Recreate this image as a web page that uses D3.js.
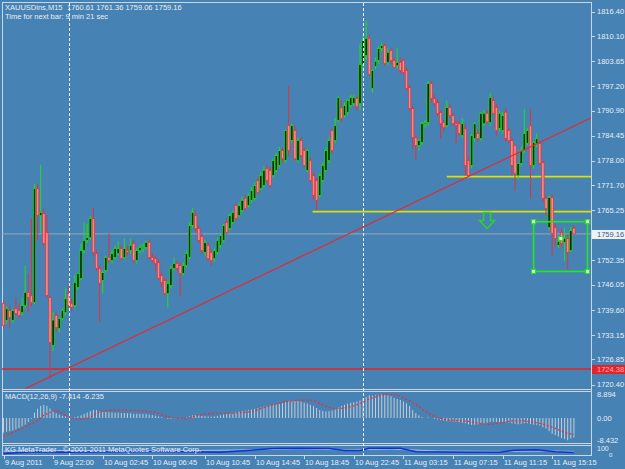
<!DOCTYPE html>
<html>
<head>
<meta charset="utf-8">
<script src="https://cdn.jsdelivr.net/npm/d3@7"></script>
<style>
  html, body { margin: 0; padding: 0; background: #4682b4; }
  svg { display: block; font-family: "Liberation Sans", Arial, sans-serif; }
</style>
</head>
<body>
<svg id="chart" width="625" height="469"></svg>
<script>
// XAUUSDins M15 - open, high, low, close per bar
const candles = [
  [1741.2,1742.0,1734.8,1735.6],[1736.9,1740.5,1736.0,1739.9],[1739.4,1740.7,1735.0,1737.6],[1736.9,1739.9,1736.3,1739.4],
  [1739.9,1742.8,1738.2,1738.7],[1739.4,1741.0,1737.4,1738.2],[1738.9,1742.8,1738.2,1740.7],[1740.7,1751.0,1740.0,1744.1],
  [1744.1,1748.9,1738.9,1742.8],[1743.3,1763.1,1740.5,1741.5],[1741.5,1772.1,1741.0,1770.8],[1770.8,1772.1,1757.5,1763.9],
  [1763.9,1777.0,1759.5,1764.7],[1764.4,1765.7,1756.2,1756.7],[1759.5,1763.9,1742.8,1743.3],[1742.8,1743.3,1721.9,1731.2],
  [1730.5,1739.0,1729.0,1737.0],[1738.2,1739.0,1734.0,1735.1],[1734.8,1737.6,1733.8,1737.4],[1737.4,1740.0,1736.9,1739.4],
  [1738.9,1745.1,1738.2,1742.5],[1743.8,1745.9,1740.2,1740.7],[1741.2,1742.5,1739.4,1740.2],[1740.7,1748.5,1740.0,1746.6],
  [1745.4,1749.2,1744.8,1749.0],[1747.7,1756.7,1747.2,1754.9],[1754.9,1762.1,1754.1,1757.5],[1757.5,1761.8,1756.9,1758.2],
  [1758.2,1763.9,1757.7,1763.1],[1763.1,1765.9,1753.6,1754.4],[1754.1,1755.1,1749.7,1750.3],[1750.3,1751.0,1736.4,1746.4],
  [1747.2,1749.7,1743.8,1749.2],[1749.7,1753.6,1749.2,1753.1],[1753.1,1759.3,1751.8,1752.3],[1752.3,1754.9,1751.5,1754.1],
  [1753.1,1756.2,1752.6,1755.4],[1754.1,1757.2,1753.6,1755.4],[1755.4,1756.4,1752.3,1752.8],[1753.1,1758.0,1752.6,1755.4],
  [1754.9,1756.2,1753.6,1754.4],[1754.9,1758.0,1754.1,1756.2],[1756.7,1757.5,1751.8,1752.3],[1752.3,1755.6,1751.5,1754.9],
  [1754.9,1756.4,1754.1,1755.7],[1755.4,1756.7,1754.4,1755.7],[1755.7,1757.5,1755.1,1757.0],[1757.0,1757.7,1752.6,1753.1],
  [1753.1,1754.1,1751.8,1752.3],[1752.8,1753.6,1749.7,1751.5],[1751.8,1752.6,1747.2,1747.7],[1748.5,1749.2,1745.4,1746.6],
  [1747.2,1747.7,1743.3,1743.8],[1743.8,1747.0,1740.2,1746.4],[1745.9,1750.8,1745.1,1750.3],[1750.3,1753.1,1749.7,1751.5],
  [1751.5,1752.3,1749.7,1750.3],[1751.0,1751.8,1743.3,1749.0],[1749.0,1751.8,1748.5,1751.0],[1751.0,1754.9,1750.5,1754.1],
  [1753.1,1762.1,1752.6,1761.3],[1761.3,1765.9,1760.8,1764.7],[1763.9,1765.2,1759.8,1760.5],[1760.5,1761.3,1756.9,1757.5],
  [1758.5,1759.3,1754.1,1754.9],[1754.4,1757.7,1753.6,1756.9],[1756.2,1757.0,1752.3,1752.8],[1754.4,1755.1,1751.0,1752.3],
  [1752.8,1755.4,1752.0,1754.9],[1754.4,1758.0,1753.8,1757.5],[1756.2,1759.0,1755.6,1758.7],[1757.5,1761.8,1757.0,1761.3],
  [1762.1,1763.1,1759.0,1759.5],[1760.5,1764.4,1760.0,1763.9],[1762.1,1765.2,1761.6,1764.7],[1766.5,1767.0,1762.6,1763.1],
  [1763.9,1767.2,1763.4,1766.5],[1765.2,1768.8,1764.7,1767.8],[1768.3,1769.1,1765.2,1765.7],[1766.5,1769.6,1765.9,1769.0],
  [1767.8,1771.1,1767.2,1770.3],[1768.3,1772.4,1767.8,1771.6],[1772.9,1773.6,1769.6,1769.8],[1770.8,1775.0,1770.3,1774.2],
  [1771.6,1776.5,1771.1,1775.5],[1776.0,1777.0,1772.4,1772.9],[1775.5,1776.5,1771.1,1771.6],[1774.2,1778.5,1773.6,1778.0],
  [1775.5,1780.0,1775.0,1779.3],[1776.8,1781.6,1776.3,1780.6],[1780.6,1781.4,1777.5,1778.5],[1778.0,1786.0,1777.5,1785.8],
  [1787.0,1797.3,1779.0,1780.6],[1783.2,1787.5,1782.5,1787.0],[1785.8,1787.0,1778.0,1778.5],[1778.0,1784.0,1777.5,1783.2],
  [1783.2,1784.0,1778.8,1779.3],[1780.6,1781.4,1776.3,1776.8],[1775.5,1781.1,1775.0,1780.6],[1778.0,1778.8,1772.4,1772.9],
  [1774.2,1775.0,1768.0,1769.0],[1772.9,1773.6,1765.2,1767.8],[1769.0,1774.7,1768.5,1774.2],[1772.9,1777.5,1772.4,1776.8],
  [1775.5,1781.4,1775.0,1780.6],[1778.0,1784.0,1777.5,1783.2],[1785.8,1786.5,1780.0,1780.6],[1783.2,1789.0,1782.5,1787.0],
  [1788.3,1794.5,1787.8,1794.2],[1791.7,1793.5,1788.0,1788.8],[1789.6,1793.0,1789.0,1792.2],[1790.4,1794.0,1789.8,1793.5],
  [1792.2,1795.0,1791.7,1794.2],[1792.7,1795.0,1792.2,1794.2],[1794.0,1794.7,1791.0,1791.9],[1792.7,1808.0,1791.0,1802.8],
  [1802.8,1810.2,1801.5,1808.9],[1805.1,1814.1,1804.0,1809.5],[1809.4,1810.5,1799.9,1800.2],[1796.6,1801.5,1795.5,1801.2],
  [1802.3,1804.5,1801.5,1803.6],[1803.8,1807.5,1803.0,1806.9],[1806.9,1808.4,1806.0,1807.6],[1807.6,1808.2,1802.5,1803.0],
  [1803.3,1807.0,1802.5,1805.9],[1806.4,1807.0,1803.0,1803.8],[1803.8,1804.5,1801.8,1802.0],[1802.5,1807.1,1801.8,1803.3],
  [1803.3,1804.5,1800.5,1801.2],[1803.8,1804.3,1800.2,1800.7],[1801.2,1802.0,1796.0,1796.6],[1796.8,1797.5,1791.0,1791.4],
  [1791.4,1792.0,1781.1,1783.9],[1783.9,1784.5,1778.0,1781.9],[1781.9,1783.5,1780.5,1783.2],[1782.7,1788.0,1782.0,1787.5],
  [1787.5,1788.5,1786.5,1787.8],[1787.8,1798.5,1787.0,1797.9],[1797.9,1798.5,1793.0,1794.0],[1794.0,1795.0,1792.0,1792.7],
  [1793.0,1794.0,1789.5,1790.2],[1790.4,1791.0,1783.6,1787.5],[1787.8,1788.5,1785.5,1786.5],[1787.0,1793.5,1786.5,1791.7],
  [1791.7,1792.5,1789.0,1789.6],[1789.6,1790.2,1787.0,1787.5],[1787.5,1788.3,1782.4,1787.0],[1787.5,1788.3,1784.5,1785.0],
  [1784.5,1789.0,1783.8,1787.5],[1786.2,1787.5,1774.2,1776.8],[1778.0,1779.0,1774.0,1774.2],[1776.8,1785.0,1776.0,1784.5],
  [1783.7,1788.0,1783.0,1787.5],[1785.0,1786.0,1783.0,1783.7],[1783.7,1790.5,1783.0,1790.2],[1787.5,1791.0,1787.0,1790.2],
  [1790.2,1791.0,1787.5,1788.0],[1787.8,1795.5,1787.0,1794.3],[1793.5,1794.5,1790.0,1790.2],[1791.7,1792.5,1784.5,1785.8],
  [1786.3,1791.0,1785.5,1790.2],[1785.8,1790.5,1785.0,1789.6],[1790.5,1791.5,1783.0,1783.7],[1785.8,1786.5,1782.5,1783.2],
  [1783.2,1784.0,1774.2,1776.8],[1781.9,1782.0,1770.3,1774.7],[1774.2,1776.5,1773.0,1777.3],[1777.3,1781.5,1776.5,1780.6],
  [1780.6,1791.4,1780.0,1785.0],[1782.5,1786.5,1782.0,1785.8],[1787.0,1791.4,1768.3,1776.8],[1776.8,1783.0,1776.0,1782.7],
  [1782.4,1785.0,1781.5,1783.7],[1782.4,1783.0,1777.0,1777.3],[1777.5,1778.0,1767.5,1768.3],[1768.3,1769.0,1764.0,1765.7],
  [1760.8,1769.0,1760.0,1768.5],[1768.5,1769.3,1753.6,1759.3],[1760.8,1761.8,1756.0,1758.0],[1756.2,1758.5,1755.5,1757.2],
  [1759.5,1760.5,1755.5,1756.7],[1757.0,1760.8,1752.0,1758.0],[1758.0,1759.0,1750.0,1754.4],[1754.9,1761.0,1754.4,1760.0],
  [1760.61,1761.36,1759.06,1759.16]
];

// MACD(12,26,9) main (histogram) and signal, one value per bar
const macdMain = [
  -5.5,-5.2,-5.0,-4.7,-4.3,-3.8,-3.2,-2.5,-1.5,
  -0.3,2.0,3.5,4.6,5.0,4.6,
  3.6,2.6,1.8,1.2,0.8,0.6,
  0.4,0.2,0.3,0.6,1.0,
  1.6,2.1,2.6,3.1,3.0,2.6,
  2.4,2.3,2.2,2.1,2.0,2.0,1.9,1.9,1.8,
  1.8,1.6,1.6,1.5,1.5,1.5,1.3,1.1,0.9,0.6,
  0.3,0.0,-0.3,-0.3,-0.2,-0.1,-0.2,0.0,0.2,0.6,
  1.0,1.1,1.0,0.8,0.7,0.6,0.5,0.6,0.8,1.0,
  1.3,1.5,1.8,2.0,2.2,2.4,2.6,2.8,3.0,3.2,
  3.5,3.7,4.0,4.3,4.5,4.7,5.0,5.3,5.5,5.7,
  6.0,6.5,6.6,6.5,6.4,6.2,5.8,5.5,5.0,
  4.5,3.8,3.0,2.7,2.5,2.6,2.8,3.2,4.0,
  4.6,5.0,5.4,5.8,6.0,6.2,6.6,
  7.4,8.0,8.6,8.5,8.6,8.8,8.894,8.7,8.5,8.2,
  7.6,7.2,6.8,6.2,5.5,4.5,3.0,1.8,
  1.0,0.4,0.0,0.2,0.0,-0.3,-0.5,
  -0.8,-1.0,-1.2,-1.2,-1.4,-1.5,-1.6,-1.8,-2.0,-2.4,
  -2.6,-2.5,-2.4,-2.2,-2.0,-1.8,-1.5,-1.4,
  -1.5,-1.6,-1.5,-1.6,-1.8,-2.0,-2.2,
  -2.4,-2.2,-2.0,-2.0,-2.3,-2.5,-2.6,-2.8,-3.5,
  -4.0,-5.0,-6.0,-6.5,-7.0,-7.6,-8.0,-8.432,-7.8,-7.414
];
const macdSignal = [
  -7.0,-6.5,-6.0,-5.5,-5.0,-4.5,-4.0,-3.3,-2.6,-2.1,
  -1.6,-0.8,0.2,1.0,1.6,2.1,2.5,2.7,2.5,1.9,
  1.0,0.4,0.0,-0.3,-0.4,-0.4,-0.3,-0.1,0.4,1.0,
  1.8,2.3,2.6,2.8,2.9,3.0,3.0,3.0,3.0,3.0,
  3.0,2.9,2.9,2.8,2.7,2.6,2.5,2.4,2.3,2.0,
  1.7,1.2,0.8,0.5,0.3,0.1,0.0,-0.1,-0.1,-0.1,
  0.1,0.4,0.8,1.1,1.3,1.5,1.6,1.7,1.8,1.8,
  1.8,1.8,1.8,1.8,1.8,1.9,2.0,2.1,2.2,2.3,
  2.5,2.8,3.1,3.5,3.9,4.3,4.6,5.0,5.3,5.6,
  5.9,6.1,6.3,6.5,6.6,6.8,6.8,6.8,6.8,6.8,
  6.7,6.1,5.4,4.9,4.4,4.0,3.7,3.7,3.7,3.7,
  3.8,4.0,4.3,4.6,5.0,5.5,6.0,6.6,7.2,7.6,
  8.0,8.4,8.7,8.9,9.0,9.0,8.9,8.6,8.2,7.6,
  7.0,6.5,5.8,5.0,4.2,3.4,2.6,1.9,1.1,0.6,
  0.1,-0.2,-0.5,-0.7,-0.8,-0.9,-1.0,-1.0,-1.1,-1.2,
  -1.3,-1.5,-1.7,-1.9,-2.1,-2.3,-2.4,-2.4,-2.3,-2.1,
  -1.9,-1.7,-1.5,-1.3,-1.1,-1.1,-1.1,-1.1,-1.1,-1.3,
  -1.5,-1.6,-1.8,-2.0,-2.3,-2.6,-3.0,-3.5,-3.9,-4.4,
  -4.9,-5.3,-5.8,-6.0,-6.235
];

// lower indicator window (0..100): [bar, value]
const subBlue = [[0,20],[10,40],[20,35],[35,40],[50,45],[60,40],[70,35],[80,60],[87,80],[95,85],[105,80],[110,55],
  [115,55],[118,85],[128,85],[133,40],[150,35],[160,35],[165,60],[172,65],[178,40],[184,30]];
const subLight = [[0,50],[20,55],[40,50],[60,55],[80,65],[95,75],[110,65],[125,75],[140,50],[160,45],[175,50],[184,45]];

// axis labels
const priceTicks = [1816.40,1810.10,1803.65,1797.20,1790.90,1784.45,1778.00,1771.70,1765.25,1752.35,1746.05,1739.60,1733.15,1726.85,1720.40];
const macdTicks = [8.894, 0, -8.432];
const timeTickBars = [0,16,32,48,65,81,97,113,129,145,161,177];
const timeLabels = ['9 Aug 2011','9 Aug 22:00','10 Aug 02:45','10 Aug 06:45','10 Aug 10:45','10 Aug 14:45',
  '10 Aug 18:45','10 Aug 22:45','11 Aug 03:15','11 Aug 07:15','11 Aug 11:15','11 Aug 15:15'];
const daySeparators = [21, 116];

// chart objects
const bidPrice = 1759.16;
const supportPrice = 1724.38;
const trendLine = [[7.1, 1719.36], [189.7, 1789.1]];
const levelLines = [{ from: 143, price: 1773.9 }, { from: 99.7, price: 1764.9 }];
const arrowPoint = { bar: 156, price: 1764.66 };
const box = { bar1: 171, bar2: 188.4, price1: 1762.3, price2: 1749.5 };
const handlePoint = { bar: 179.8, price: 1758.0 };

(function() {
    'use strict';

    const svg = d3.select('#chart');
    const frame = '#c9d6e3';
    const fg = '#e8eef5';
    const L = 2, R = 591;
    const snap = v => Math.round(v) + 0.5;

    const x = d3.scaleLinear().domain([0, candles.length - 1]).range([3.5, 3.5 + (candles.length - 1) * 3.1]);
    const y = d3.scaleLinear().domain([1720.40, 1816.40]).range([384.5, 11.5]);
    const ym = d3.scaleLinear().domain([-8.432, 8.894]).range([440.3, 394.5]);
    const ys = d3.scaleLinear().domain([0, 100]).range([455, 447]);

    svg.append('rect').attr('width', 625).attr('height', 469).attr('fill', '#4682b4');

    const defs = svg.append('defs');
    const clip = (id, y0, y1) => defs.append('clipPath').attr('id', id)
        .append('rect').attr('x', L).attr('y', y0).attr('width', R - L).attr('height', y1 - y0);
    clip('clipMain', 2, 389);
    clip('clipMacd', 391.5, 443.5);
    clip('clipSub', 445.5, 455.5);

    // window frames
    const frames = svg.append('g').attr('stroke', frame).attr('stroke-width', 1);
    [2.5, 389.5, 391.5, 443.5, 445.5, 455.5].forEach(v => {
        frames.append('line').attr('x1', L).attr('x2', R).attr('y1', v).attr('y2', v);
    });
    frames.append('line').attr('x1', L + 0.5).attr('x2', L + 0.5).attr('y1', 2).attr('y2', 456);
    frames.append('line').attr('x1', R + 0.5).attr('x2', R + 0.5).attr('y1', 2).attr('y2', 456);

    // main window
    const main = svg.append('g').attr('clip-path', 'url(#clipMain)');

    const hline = (x1, p, color, w) => main.append('line')
        .attr('x1', x1).attr('x2', R)
        .attr('y1', y(p)).attr('y2', y(p))
        .attr('stroke', color).attr('stroke-width', w);

    hline(L, bidPrice, '#9ba7b4', 1);
    hline(L, supportPrice, '#e82020', 1.6);
    levelLines.forEach(d => hline(x(d.from), d.price, '#e0e000', 1.6));

    // candles
    const bw = 2.4;
    const candle = main.append('g').selectAll('g')
        .data(candles)
        .enter().append('g');
    candle.append('line')
        .attr('x1', (d, i) => x(i)).attr('x2', (d, i) => x(i))
        .attr('y1', d => y(d[1])).attr('y2', d => y(d[2]))
        .attr('stroke', d => d[3] >= d[0] ? '#1ee01e' : '#e8303a')
        .attr('stroke-width', 1);
    candle.append('rect')
        .attr('x', (d, i) => x(i) - bw / 2)
        .attr('width', bw)
        .attr('y', d => y(Math.max(d[0], d[3])))
        .attr('height', d => Math.max(0.8, Math.abs(y(d[0]) - y(d[3]))))
        .attr('fill', d => d[3] >= d[0] ? '#0c2a0c' : '#f48a88')
        .attr('stroke', d => d[3] >= d[0] ? '#1ee01e' : '#e8303a')
        .attr('stroke-width', 0.7);

    // trend line
    main.append('line')
        .attr('x1', x(trendLine[0][0])).attr('y1', y(trendLine[0][1]))
        .attr('x2', x(trendLine[1][0])).attr('y2', y(trendLine[1][1]))
        .attr('stroke', '#e82830').attr('stroke-width', 1.2);

    // hollow down arrow
    const ax = x(arrowPoint.bar), ay = y(arrowPoint.price);
    main.append('path')
        .attr('d', `M${ax - 3.5},${ay} L${ax + 3.5},${ay} L${ax + 3.5},${ay + 8} L${ax + 7.5},${ay + 8}
                    L${ax},${ay + 16} L${ax - 7.5},${ay + 8} L${ax - 3.5},${ay + 8} Z`)
        .attr('fill', 'none').attr('stroke', '#30d030').attr('stroke-width', 1.5);

    // selected rectangle with handles
    main.append('rect')
        .attr('x', x(box.bar1)).attr('y', y(box.price1))
        .attr('width', x(box.bar2) - x(box.bar1))
        .attr('height', y(box.price2) - y(box.price1))
        .attr('fill', 'none').attr('stroke', '#22e622').attr('stroke-width', 1.7);
    const handles = [[box.bar1, box.price1], [box.bar2, box.price1], [box.bar1, box.price2], [box.bar2, box.price2],
        [handlePoint.bar, handlePoint.price]];
    main.append('g').selectAll('rect')
        .data(handles)
        .enter().append('rect')
        .attr('x', d => x(d[0]) - 2).attr('y', d => y(d[1]) - 2)
        .attr('width', 4).attr('height', 4)
        .attr('fill', '#ffffff').attr('stroke', '#22e622').attr('stroke-width', 1.2);

    // MACD window
    const macd = svg.append('g').attr('clip-path', 'url(#clipMacd)');
    macd.append('g').selectAll('line')
        .data(macdMain)
        .enter().append('line')
        .attr('x1', (d, i) => x(i)).attr('x2', (d, i) => x(i))
        .attr('y1', ym(0)).attr('y2', d => ym(d))
        .attr('stroke', '#c6ccd2').attr('stroke-width', 1);
    macd.append('path')
        .datum(macdSignal)
        .attr('d', d3.line().x((d, i) => x(i)).y(d => ym(d)))
        .attr('fill', 'none')
        .attr('stroke', '#ff2626').attr('stroke-width', 1.2)
        .attr('stroke-dasharray', '2,2');

    // lower window
    const sub = svg.append('g').attr('clip-path', 'url(#clipSub)');
    const subLine = d3.line().x(d => x(d[0])).y(d => ys(d[1]));
    sub.append('path').datum(subLight).attr('d', subLine)
        .attr('fill', 'none').attr('stroke', '#a8c4dc').attr('stroke-width', 1);
    sub.append('path').datum(subBlue).attr('d', subLine)
        .attr('fill', 'none').attr('stroke', '#1030e0').attr('stroke-width', 1.5);

    // period separators
    svg.append('g').selectAll('line')
        .data(daySeparators)
        .enter().append('line')
        .attr('x1', d => snap(x(d))).attr('x2', d => snap(x(d)))
        .attr('y1', 3).attr('y2', 456)
        .attr('stroke', '#eef3f8').attr('stroke-width', 1)
        .attr('stroke-dasharray', '3,2');

    // texts
    const txt = (tx, ty, s, color, size) => svg.append('text')
        .attr('x', tx).attr('y', ty)
        .attr('font-size', (size || 7.5) + 'px')
        .attr('fill', color || fg)
        .text(s);

    txt(5, 9.5, 'XAUUSDins,M15');
    txt(67, 9.5, '1760.61 1761.36 1759.06 1759.16');
    txt(5, 19, 'Time for next bar: 9 min 21 sec');
    txt(5, 398.5, 'MACD(12,26,9) -7.414 -6.235');
    txt(5, 451.5, 'KG MetaTrader - \u00a9 2001-2011 MetaQuotes Software Corp.');

    // price axis
    const axisG = svg.append('g');
    priceTicks.forEach(p => {
        axisG.append('line')
            .attr('x1', R + 1).attr('x2', R + 4)
            .attr('y1', snap(y(p))).attr('y2', snap(y(p)))
            .attr('stroke', frame);
        axisG.append('text')
            .attr('x', 597).attr('y', y(p)).attr('dy', '0.35em')
            .attr('font-size', '7.5px').attr('fill', fg)
            .text(p.toFixed(2));
    });

    const priceTag = (p, bg, color) => {
        axisG.append('rect')
            .attr('x', R + 1).attr('y', Math.round(y(p)) - 4)
            .attr('width', 625 - R).attr('height', 9)
            .attr('fill', bg);
        axisG.append('text')
            .attr('x', 597).attr('y', y(p)).attr('dy', '0.35em')
            .attr('font-size', '7.5px').attr('fill', color)
            .text(p.toFixed(2));
    };
    priceTag(bidPrice, '#eef2f6', '#3a5c86');
    priceTag(supportPrice, '#e4222c', '#ffb4b4');

    macdTicks.forEach(v => {
        axisG.append('text')
            .attr('x', 597).attr('y', ym(v)).attr('dy', '0.35em')
            .attr('font-size', '7.5px').attr('fill', fg)
            .text(v === 0 ? '0.00' : v.toFixed(3));
    });
    txt(597, 451, '100', fg, 7);
    txt(609, 457, '0', fg, 6);

    // time axis
    timeTickBars.forEach((b, k) => {
        const tx = snap(x(b));
        svg.append('line')
            .attr('x1', tx).attr('x2', tx).attr('y1', 456).attr('y2', 459)
            .attr('stroke', frame);
        txt(tx + 0.5, 465, timeLabels[k]);
    });
})();
</script>
</body>
</html>
